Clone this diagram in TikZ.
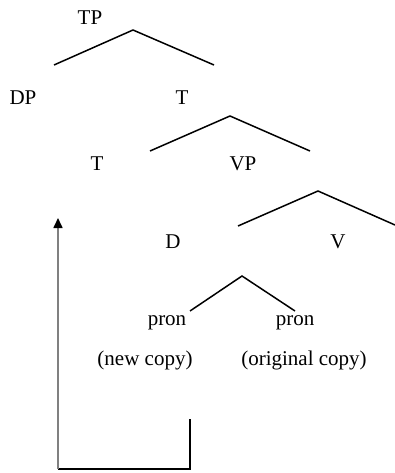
\documentclass[tikz,border=0pt]{standalone}
\usepackage{fontspec}
\setmainfont{Liberation Serif}
\usetikzlibrary{arrows.meta}
\tikzset{
  cat/.style={font=\fontsize{21}{25}\selectfont, inner sep=0pt, anchor=base},
  branch/.style={draw=black, line width=1.5pt},
  move/.style={draw=black, line width=1.5pt},
  trace/.style={draw=black!50, line width=1.6pt,
                -{Triangle[length=10pt,width=9pt,color=black]}},
}
\begin{document}
\begin{tikzpicture}[x=1pt,y=-1pt]
\useasboundingbox (0,0) rectangle (395,473);

% labels
\node[cat] (tp)    at (90,25)   {TP};
\node[cat] (dp)    at (23,105)  {DP};
\node[cat] (tbar)  at (182,105) {T};
\node[cat] (t)     at (97,170)  {T};
\node[cat] (vp)    at (243,170) {VP};
\node[cat] (d)     at (173,248) {D};
\node[cat] (v)     at (338,248) {V};
\node[cat] (pnew)  at (167,325) {pron};
\node[cat] (porig) at (295,325) {pron};
\node[cat] (cnew)  at (145,365) {(new copy)};
\node[cat] (corig) at (304,365) {(original copy)};

% branches
\coordinate (tp-l) at (54,65);   \coordinate (tp-a) at (133,30);  \coordinate (tp-r) at (214,65);
\coordinate (tb-l) at (150,151); \coordinate (tb-a) at (230,116); \coordinate (tb-r) at (310,151);
\coordinate (vp-l) at (238,226); \coordinate (vp-a) at (318,191); \coordinate (vp-r) at (395,225);
\coordinate (d-l)  at (190,311); \coordinate (d-a)  at (242,276); \coordinate (d-r)  at (295,311);

\draw[branch] (tp-l) -- (tp-a) -- (tp-r);
\draw[branch] (tb-l) -- (tb-a) -- (tb-r);
\draw[branch] (vp-l) -- (vp-a) -- (vp-r);
\draw[branch] (d-l) -- (d-a) -- (d-r);

% movement
\coordinate (src)  at (190,419);
\coordinate (bend) at (58,469);
\coordinate (land) at (58,218);
\draw[move] (src) -- (src |- bend) -- (bend);
\draw[trace] (bend) -- (land);
\end{tikzpicture}
\end{document}
